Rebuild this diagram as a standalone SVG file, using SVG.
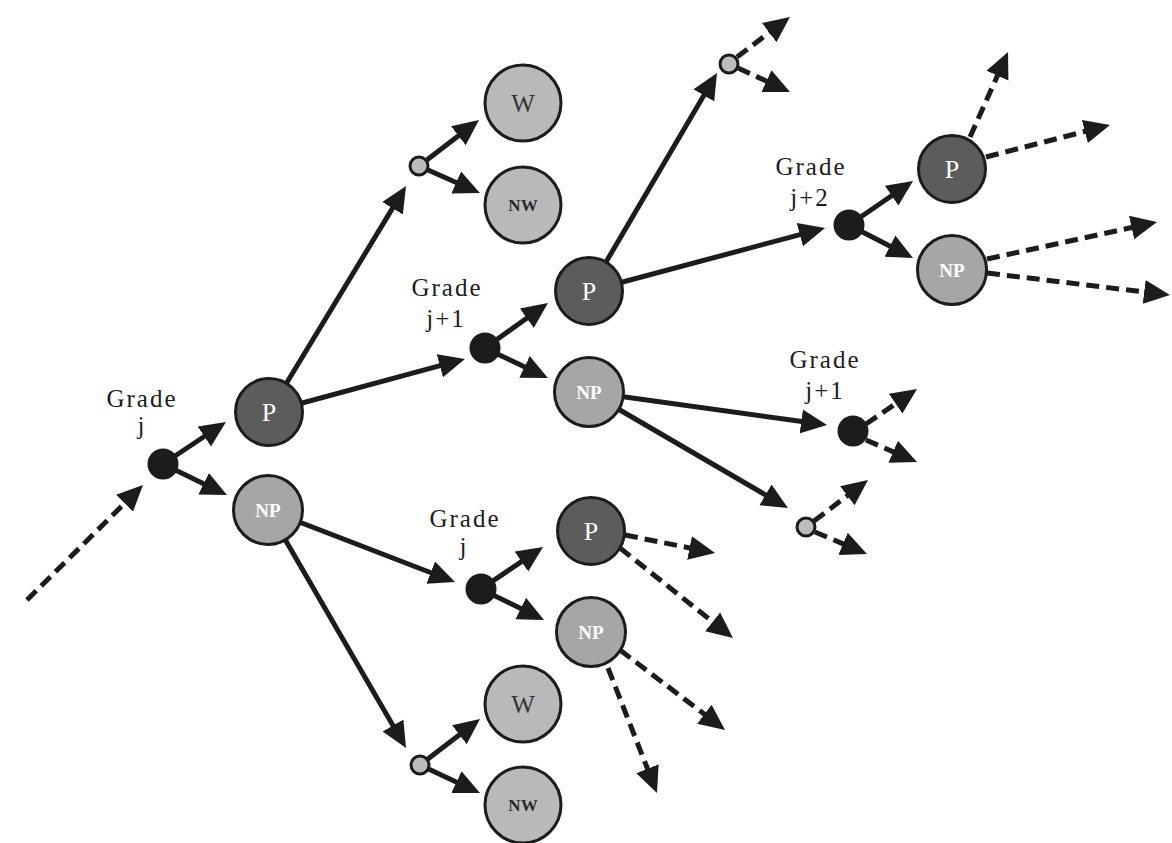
<svg xmlns="http://www.w3.org/2000/svg" width="1172" height="843" viewBox="0 0 1172 843">
<defs>
<marker id="ah" viewBox="0 -13 28 26" markerWidth="28" markerHeight="26" refX="8" refY="0" orient="auto" markerUnits="userSpaceOnUse">
<path d="M0,-12 L26,0 L0,12 z" fill="#1c1c1c"/>
</marker>
</defs>
<style>
.s{stroke:#1c1c1c;stroke-width:5;fill:none;marker-end:url(#ah)}
.d{stroke:#1c1c1c;stroke-width:5;fill:none;stroke-dasharray:13 7;marker-end:url(#ah)}
.c{stroke:#1c1c1c;stroke-width:3}
.pd{fill:#5c5c5c}
.np{fill:#a6a6a6}
.w{fill:#b9b9b9}
.dec{fill:#1c1c1c}
.ch{fill:#bcbcbc;stroke:#1c1c1c;stroke-width:3}
.lp{font-family:"Liberation Serif",serif;font-size:26px;fill:#ffffff;text-anchor:middle}
.lnp{font-family:"Liberation Serif",serif;font-size:19px;font-weight:bold;fill:#ffffff;text-anchor:middle}
.lw{font-family:"Liberation Serif",serif;font-size:25px;fill:#333333;text-anchor:middle}
.lnw{font-family:"Liberation Serif",serif;font-size:17px;font-weight:bold;fill:#2a2a2a;text-anchor:middle}
.g{font-family:"Liberation Serif",serif;font-size:25px;fill:#1c1c1c;text-anchor:middle;letter-spacing:2px}
</style>
<rect width="1172" height="843" fill="#ffffff"/>
<g id="connectors">
<path class="s" d="M163,464 L211,432"/>
<path class="s" d="M163,464 L210.8,487.2"/>
<path class="s" d="M269,412 L396.7,201.4"/>
<path class="s" d="M269,412 L447.6,363.7"/>
<path class="s" d="M268,510 L438.2,575.5"/>
<path class="s" d="M268,510 L397,732.4"/>
<path class="s" d="M419,166 L464.7,130.9"/>
<path class="s" d="M419,166 L463.5,185.7"/>
<path class="s" d="M485,348 L533.3,313.5"/>
<path class="s" d="M485,348 L531.7,370.3"/>
<path class="s" d="M589,291 L707.9,88.5"/>
<path class="s" d="M589,291 L807.6,232.6"/>
<path class="s" d="M849,225 L898.2,191.2"/>
<path class="s" d="M849,225 L897,249.8"/>
<path class="s" d="M589,392 L809.2,422.5"/>
<path class="s" d="M589,392 L772.4,498.9"/>
<path class="s" d="M481,589 L528.1,557.1"/>
<path class="s" d="M481,589 L527.9,612"/>
<path class="s" d="M420,765 L465.7,729.9"/>
<path class="s" d="M420,765 L463.7,785.4"/>
<path class="d" d="M27,600 L130.2,497.7"/>
<path class="d" d="M737,57 L775.6,27.8"/>
<path class="d" d="M738,68 L773.7,84.5"/>
<path class="d" d="M970,137 L1000.7,68.4"/>
<path class="d" d="M986,157 L1092.6,129.5"/>
<path class="d" d="M987,259 L1139.4,225.8"/>
<path class="d" d="M987,273 L1152.1,292.9"/>
<path class="d" d="M866,424 L902.2,399.2"/>
<path class="d" d="M866,440 L900.5,454.9"/>
<path class="d" d="M814,521 L853.7,490.9"/>
<path class="d" d="M815,532 L850.4,547"/>
<path class="d" d="M625,535 L697.4,549.5"/>
<path class="d" d="M620,548 L718.9,626.8"/>
<path class="d" d="M620,650 L710.7,719.1"/>
<path class="d" d="M608,668 L650.4,776.2"/>
</g>
<g id="label-grade-j-1"><text class="g" x="142" y="407">Grade</text><text class="g" x="142" y="434">j</text></g>
<g id="label-grade-j1-1"><text class="g" x="447" y="296">Grade</text><text class="g" x="446" y="327">j+1</text></g>
<g id="label-grade-j2"><text class="g" x="811" y="175">Grade</text><text class="g" x="810" y="206">j+2</text></g>
<g id="label-grade-j1-2"><text class="g" x="825" y="368">Grade</text><text class="g" x="825" y="399">j+1</text></g>
<g id="label-grade-j-2"><text class="g" x="465" y="527">Grade</text><text class="g" x="464" y="555">j</text></g>
<g id="dec1"><circle class="dec" cx="163" cy="464" r="15.5"/></g>
<g id="dec2"><circle class="dec" cx="485" cy="348" r="15.5"/></g>
<g id="dec3"><circle class="dec" cx="849" cy="225" r="15.5"/></g>
<g id="dec4"><circle class="dec" cx="853" cy="431" r="15.5"/></g>
<g id="dec5"><circle class="dec" cx="481" cy="589" r="15.5"/></g>
<g id="ch1"><circle class="ch" cx="419" cy="166" r="9"/></g>
<g id="ch2"><circle class="ch" cx="729" cy="64" r="9"/></g>
<g id="ch3"><circle class="ch" cx="806" cy="527" r="9"/></g>
<g id="ch4"><circle class="ch" cx="420" cy="765" r="9"/></g>
<g id="p1"><circle class="c pd" cx="269" cy="412" r="33.5"/><text class="lp" x="269" y="421">P</text></g>
<g id="np1"><circle class="c np" cx="268" cy="510" r="34.5"/><text class="lnp" x="268" y="517">NP</text></g>
<g id="w1"><circle class="c w" cx="523" cy="103" r="38"/><text class="lw" x="523" y="112">W</text></g>
<g id="nw1"><circle class="c w" cx="523" cy="205" r="38"/><text class="lnw" x="523" y="211">NW</text></g>
<g id="p2"><circle class="c pd" cx="589" cy="291" r="33.5"/><text class="lp" x="589" y="300">P</text></g>
<g id="np2"><circle class="c np" cx="589" cy="392" r="34.5"/><text class="lnp" x="589" y="399">NP</text></g>
<g id="p3"><circle class="c pd" cx="952" cy="169" r="33.5"/><text class="lp" x="952" y="178">P</text></g>
<g id="np3"><circle class="c np" cx="952" cy="270" r="34.5"/><text class="lnp" x="952" y="277">NP</text></g>
<g id="p4"><circle class="c pd" cx="591" cy="531" r="33.5"/><text class="lp" x="591" y="540">P</text></g>
<g id="np4"><circle class="c np" cx="591" cy="632" r="34.5"/><text class="lnp" x="591" y="639">NP</text></g>
<g id="w2"><circle class="c w" cx="523" cy="704" r="38"/><text class="lw" x="523" y="713">W</text></g>
<g id="nw2"><circle class="c w" cx="523" cy="805" r="38"/><text class="lnw" x="523" y="811">NW</text></g>
</svg>
